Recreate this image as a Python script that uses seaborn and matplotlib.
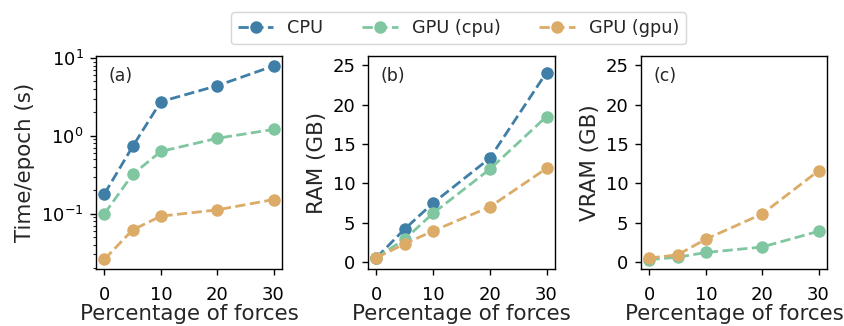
import numpy as np
import pandas as pd
import matplotlib
matplotlib.use("Agg")
import matplotlib.pyplot as plt
import seaborn as sns

pct = [0, 5, 10, 20, 30]
series_names = ["CPU", "GPU (cpu)", "GPU (gpu)"]
colors = ["#3f7fa7", "#80c6a0", "#dcab67"]

time_cpu = [0.18, 0.73, 2.75, 4.4, 7.9]
time_gpu_cpu = [0.10, 0.32, 0.63, 0.93, 1.21]
time_gpu_gpu = [0.026, 0.062, 0.093, 0.112, 0.152]

ram_cpu = [0.55, 4.2, 7.5, 13.2, 24.1]
ram_gpu_cpu = [0.55, 2.9, 6.2, 11.8, 18.5]
ram_gpu_gpu = [0.55, 2.3, 3.95, 7.0, 11.9]

vram_gpu_cpu = [0.3, 0.6, 1.2, 1.9, 3.9]
vram_gpu_gpu = [0.5, 0.9, 2.9, 6.1, 11.6]

def frame(values, names):
    rows = []
    for vals, name in zip(values, names):
        for x, v in zip(pct, vals):
            rows.append({"pct": x, "value": v, "series": name})
    return pd.DataFrame(rows)

df_time = frame([time_cpu, time_gpu_cpu, time_gpu_gpu], series_names)
df_ram = frame([ram_cpu, ram_gpu_cpu, ram_gpu_gpu], series_names)
df_vram = frame([vram_gpu_cpu, vram_gpu_gpu], series_names[1:])

sns.set_theme(style="ticks")
plt.rcParams["font.family"] = ["DejaVu Sans"]

fig = plt.figure(figsize=(8.45, 3.26), dpi=100)
W, H = 845, 326
def ax_at(l, r, t, b):
    return fig.add_axes([l / W, 1 - b / H, (r - l) / W, (b - t) / H])

axa = ax_at(96, 282, 56, 269)
axb = ax_at(368, 555, 56, 269)
axc = ax_at(641, 827, 56, 269)

palette = dict(zip(series_names, colors))
kw = dict(x="pct", y="value", hue="series", palette=palette, marker="o",
          markersize=9, markeredgewidth=0, linestyle="--", linewidth=2.0,
          legend=False)

sns.lineplot(data=df_time, ax=axa, **kw)
sns.lineplot(data=df_ram, ax=axb, **kw)
sns.lineplot(data=df_vram, ax=axc, **kw)

axa.set_yscale("log")
axa.set_ylim(0.0195, 10.6)
for ax in (axb, axc):
    ax.set_ylim(-0.9, 26.2)
    ax.set_yticks([0, 5, 10, 15, 20, 25])

ylabels = ["Time/epoch (s)", "RAM (GB)", "VRAM (GB)"]
tags = ["(a)", "(b)", "(c)"]
for ax, yl, tag in zip((axa, axb, axc), ylabels, tags):
    ax.set_xlim(-1.5, 31.5)
    ax.set_xticks([0, 10, 20, 30])
    ax.set_xlabel("Percentage of forces", fontsize=15.4, labelpad=0)
    ax.set_ylabel(yl, fontsize=15.4, labelpad=4)
    ax.tick_params(labelsize=13, length=4, width=1, colors="black")
    ax.tick_params(axis="x", pad=8)
    ax.tick_params(axis="y", pad=5)
    ax.tick_params(which="minor", length=2.5, width=0.8)
    for s in ax.spines.values():
        s.set_visible(True)
        s.set_color("black")
        s.set_linewidth(1)
    ax.text(0.065, 0.95, tag, transform=ax.transAxes, fontsize=12.5,
            va="top", ha="left")

from matplotlib.lines import Line2D
handles = [Line2D([0], [0], color=c, marker="o", markersize=9,
                  markeredgewidth=0, linestyle="--", linewidth=2.0)
           for c in colors]
fig.legend(handles, series_names, loc="upper center",
           bbox_to_anchor=(0.5426, 0.99), ncol=3, fontsize=12.7,
           frameon=True, columnspacing=2.2, borderpad=0.4)

fig.savefig("out.png", dpi=100)
